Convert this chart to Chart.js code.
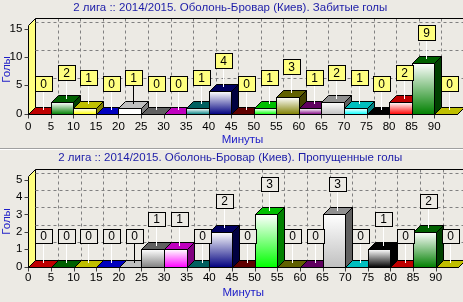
<!DOCTYPE html>
<html>
<head>
<meta charset="utf-8">
<script src="https://cdn.jsdelivr.net/npm/chart.js@4.4.1/dist/chart.umd.min.js"></script>
<style>
  html, body { margin: 0; padding: 0; background: #ECEAE4; }
  body { width: 463px; height: 302px; position: relative; overflow: hidden; }
  .pane { position: absolute; left: 0; width: 463px; }
  #topPane { top: 0; height: 148px; }
  #botPane { top: 150px; height: 152px; }
  .sep { position: absolute; left: 0; top: 148px; width: 463px; height: 0;
         border-top: 1px solid #A0A0A0; border-bottom: 1px solid #FFFFFF; }
</style>
</head>
<body>
<div class="pane" id="topPane"><canvas id="scoredChart" width="463" height="148"></canvas></div>
<div class="sep"></div>
<div class="pane" id="botPane"><canvas id="concededChart" width="463" height="152"></canvas></div>
<script>
// data: goals per 5-minute interval (start minute of each interval)
const bins = [0, 5, 10, 15, 20, 25, 30, 35, 40, 45, 50, 55, 60, 65, 70, 75, 80, 85, 90];
const binWidth = 5;
const scored   = [0, 2, 1, 0, 1, 0, 0, 1, 4, 0, 1, 3, 1, 2, 1, 0, 2, 9, 0];
const conceded = [0, 0, 0, 0, 0, 1, 1, 0, 2, 0, 3, 0, 0, 3, 0, 1, 0, 2, 0];
const teamTitle = '2 лига :: 2014/2015. Оболонь-Бровар (Киев). ';
const scoredTitle = teamTitle + 'Забитые голы';
const concededTitle = teamTitle + 'Пропущенные голы';
const xTitle = 'Минуты';
const yTitle = 'Голы';

// TeeChart-like palette, cycles every 16 bars
const palette = ['#FF0000', '#008000', '#FFFF00', '#0000FF', '#FFFFFF', '#808080', '#FF00FF', '#008080',
                 '#000080', '#800000', '#00FF00', '#808000', '#800080', '#C0C0C0', '#00FFFF', '#000000'];

const FONT = '"Liberation Sans", Arial, sans-serif';
Chart.defaults.font.family = FONT;
const DX = 7, DY = 7; // 3d depth

function shade(hex, f) {
  const n = parseInt(hex.slice(1), 16);
  const r = (n >> 16) & 255, g = (n >> 8) & 255, b = n & 255;
  return `rgb(${Math.round(r * f)},${Math.round(g * f)},${Math.round(b * f)})`;
}
function line(ctx, x1, y1, x2, y2) {
  ctx.beginPath(); ctx.moveTo(x1, y1); ctx.lineTo(x2, y2); ctx.stroke();
}
function poly(ctx, pts, fill) {
  ctx.beginPath();
  pts.forEach((p, i) => i ? ctx.lineTo(p[0], p[1]) : ctx.moveTo(p[0], p[1]));
  ctx.closePath();
  ctx.fillStyle = fill; ctx.fill(); ctx.stroke();
}

// walls, grid and 3d bars
const box3d = {
  id: 'box3d',
  beforeDatasetsDraw(chart) {
    const { ctx, chartArea: a, scales: { x, y } } = chart;
    const L = Math.round(a.left) + 0.5, B = Math.round(a.bottom) + 0.5, T = Math.round(a.top) + 0.5;
    ctx.save();
    ctx.lineWidth = 1;
    // left wall
    ctx.strokeStyle = '#000';
    poly(ctx, [[L, B], [L, T], [L + DX, T - DY], [L + DX, B - DY]], '#FFFF80');
    // dashed grid on back wall
    ctx.setLineDash([3, 3]);
    ctx.strokeStyle = '#808080';
    y.ticks.forEach(t => {
      if (t.label === '' || t.value === 0) return;
      const py = Math.round(y.getPixelForValue(t.value)) + 0.5 - DY;
      line(ctx, L + DX, py, chart.width, py);
    });
    x.ticks.forEach(t => {
      if (t.value === 0) return;
      const px = Math.round(x.getPixelForValue(t.value)) + 0.5 + DX;
      line(ctx, px, T - DY, px, B - DY);
    });
    ctx.setLineDash([]);
    ctx.strokeStyle = '#000';
    line(ctx, L + DX, T - DY, chart.width, T - DY);
    line(ctx, L, B, a.right, B);
    // tick marks
    ctx.strokeStyle = '#404040';
    x.ticks.forEach(t => {
      if (t.label === '') return;
      const px = Math.round(x.getPixelForValue(t.value)) + 0.5;
      line(ctx, px, B, px, B + 4);
    });
    y.ticks.forEach(t => {
      if (t.label === '') return;
      const py = Math.round(y.getPixelForValue(t.value)) + 0.5;
      line(ctx, L - 4, py, L, py);
    });
    ctx.restore();
  },
  afterDatasetsDraw(chart, args, opts) {
    const { ctx } = chart;
    const meta = chart.getDatasetMeta(0);
    const vals = chart.data.datasets[0].data;
    ctx.save();
    ctx.lineWidth = 1;
    ctx.strokeStyle = '#000';
    meta.data.forEach((bar, i) => {
      const p = bar.getProps(['x', 'y', 'base', 'width'], true);
      const l = Math.round(p.x - p.width / 2) + 0.5, r = Math.round(p.x + p.width / 2) + 0.5;
      const t = Math.round(p.y) + 0.5, b = Math.round(p.base) + 0.5;
      const c = palette[i % palette.length];
      const g = ctx.createLinearGradient(0, t, 0, b);
      g.addColorStop(0, '#FFFFFF');
      g.addColorStop(1, c);
      ctx.fillStyle = g;
      ctx.fillRect(l, t, r - l, b - t);
      ctx.strokeRect(l, t, r - l, b - t);
      poly(ctx, [[l, t], [l + DX, t - DY], [r + DX, t - DY], [r, t]], shade(c, 0.75));
      poly(ctx, [[r, t], [r + DX, t - DY], [r + DX, b - DY], [r, b]], shade(c, 0.5));
    });
    // marks
    ctx.font = '12px ' + FONT;
    ctx.textAlign = 'center';
    ctx.textBaseline = 'middle';
    meta.data.forEach((bar, i) => {
      const ax = Math.round(bar.x + DX / 2) + 0.5;
      const ay = Math.round(bar.y - DY / 2);
      const by = ay - opts.arrow;
      ctx.strokeStyle = palette[i % palette.length] === '#FFFFFF' ? '#000' : '#FFF';
      line(ctx, ax, ay, ax, by);
      const txt = String(vals[i].y);
      const w = Math.round(ctx.measureText(txt).width) + 10, h = opts.boxH;
      const bx = Math.round(ax - w / 2) + 0.5, bt = by - h + 0.5;
      ctx.fillStyle = opts.boxFill;
      ctx.fillRect(bx, bt, w, h);
      ctx.strokeStyle = '#000';
      ctx.strokeRect(bx, bt, w, h);
      ctx.fillStyle = '#000';
      ctx.fillText(txt, ax, bt + h / 2 + 0.5);
    });
    ctx.restore();
  }
};

function makeChart(id, title, values, o) {
  const ctx = document.getElementById(id).getContext('2d');
  return new Chart(ctx, {
    type: 'bar',
    data: {
      datasets: [{
        data: values.map((v, i) => ({ x: bins[i] + binWidth / 2, y: v })),
        backgroundColor: 'rgba(0,0,0,0)',
        borderWidth: 0,
        barPercentage: 1,
        categoryPercentage: 1
      }]
    },
    options: {
      responsive: false,
      animation: false,
      layout: { padding: { left: 0, right: 2.5, top: 0, bottom: 0 } },
      plugins: {
        legend: { display: false },
        tooltip: { enabled: false },
        title: {
          display: true, text: title, color: '#1C1CA8',
          font: { size: 11.5, weight: 'normal' },
          padding: { top: 0.8, bottom: o.titleGap }
        },
        box3d: { arrow: o.arrow, boxH: o.boxH, boxFill: o.boxFill }
      },
      scales: {
        x: {
          type: 'linear', min: 0, max: 95, offset: false,
          grid: { display: false, drawTicks: false }, border: { display: false },
          ticks: {
            stepSize: 5, autoSkip: false, maxRotation: 0, padding: o.xPad,
            color: '#000', font: { size: 11.5 },
            callback: v => v <= bins[bins.length - 1] ? v : ''
          },
          title: { display: true, text: xTitle, color: '#2020C8', font: { size: 11.5 },
                   padding: { top: 0, bottom: o.xTitlePad } },
          afterFit: s => { s.height = o.xHeight; }
        },
        y: {
          min: 0, max: o.yMax,
          grid: { display: false, drawTicks: false }, border: { display: false },
          ticks: {
            stepSize: o.yStep, includeBounds: false, padding: 6, color: '#000', font: { size: 11.5 },
            callback: v => v % o.yStep === 0 ? v : ''
          },
          title: { display: true, text: yTitle, color: '#2020C8', font: { size: 11.5 }, padding: 0 },
          afterFit: s => { s.width = 28.3; }
        }
      }
    },
    plugins: [box3d]
  });
}

makeChart('scoredChart', scoredTitle, scored, {
  yMax: 15.6, yStep: 5, titleGap: 10.7, xHeight: 34.5, xPad: 6.3, xTitlePad: 1.2,
  arrow: 19, boxH: 15, boxFill: '#FFFF80'
});
makeChart('concededChart', concededTitle, conceded, {
  yMax: 5.2, yStep: 1, titleGap: 11.7, xHeight: 35.5, xPad: 4.7, xTitlePad: 2.2,
  arrow: 20, boxH: 14, boxFill: '#ECEAE4'
});
</script>
</body>
</html>
